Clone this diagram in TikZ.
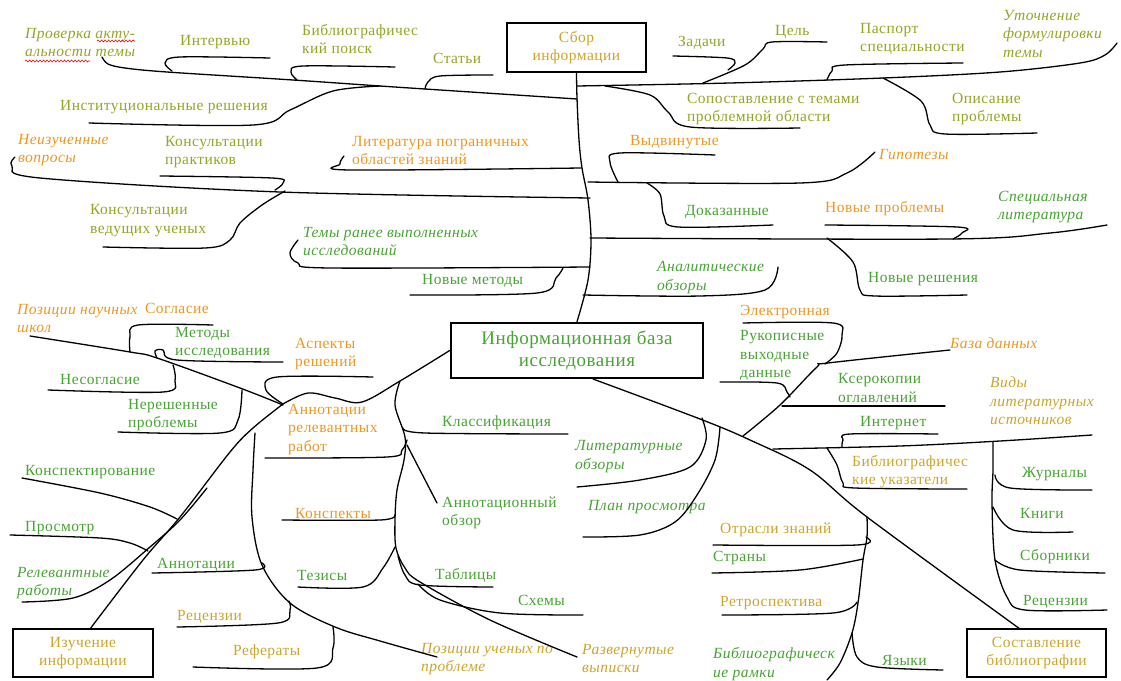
\documentclass[tikz,border=0pt]{standalone}
\usepackage{fontspec}
\setmainfont{Liberation Serif}[LetterSpace=3]
\usetikzlibrary{decorations.pathmorphing}
\definecolor{cOl}{RGB}{150,165,35}
\definecolor{cOr}{RGB}{240,150,30}
\definecolor{cGd}{RGB}{205,165,40}
\definecolor{cGr}{RGB}{70,165,50}
\newcommand{\fs}{\fontsize{15.5}{18.5}\selectfont}
\newcommand{\fb}{\fontsize{19}{22}\selectfont}
\begin{document}
\begin{tikzpicture}[x=1pt,y=-1pt,
  lbl/.style={anchor=west, inner sep=0pt, align=left, font=\fs},
  it/.style={lbl, font=\fs\itshape},
  boxn/.style={draw, line width=1.3pt, inner sep=0pt, align=center, font=\fs},
  br/.style={line width=1.3pt, line cap=round, line join=round},
  sm/.style={smooth, tension=0.55}]
\useasboundingbox (0,0) rectangle (1121,680);
\fill[white] (0,0) rectangle (1121,680);

% ---------- boxes ----------
\node[boxn, minimum width=139pt, minimum height=49pt, text=cGd] (sbor) at (576.5,47.5) {Сбор\\информации};
\node[boxn, line width=2.6pt, minimum width=252pt, minimum height=55pt, font=\fb, text=cGr] (info) at (577,350.5) {Информационная база\\исследования};
\node[boxn, minimum width=140pt, minimum height=48pt, text=cGd] (izu) at (83,653) {Изучение\\информации};
\node[boxn, minimum width=139pt, minimum height=48pt, text=cGd] (sost) at (1036.5,653) {Составление\\библиографии};

% ---------- labels ----------
\node[it, text=cOl] (n1) at (25,42.5) {Проверка акту-\\альности темы};
\node[lbl, text=cOl] (n2) at (180,42) {Интервью};
\node[lbl, text=cOl] (n3) at (302,39) {Библиографичес\\кий поиск};
\node[lbl, text=cOl] (n4) at (433,58) {Статьи};
\node[lbl, text=cOl] (n6) at (678,43) {Задачи};
\node[lbl, text=cOl] (n7) at (775,32) {Цель};
\node[lbl, text=cOl] (n8) at (860,39) {Паспорт\\специальности};
\node[it, text=cOl] (n9) at (1003,34) {Уточнение\\формулировки\\темы};
\node[lbl, text=cOl] (n10) at (60,107) {Институциональные решения};
\node[lbl, text=cOl] (n11) at (687,109) {Сопоставление с темами\\проблемной области};
\node[lbl, text=cOl] (n12) at (952,109) {Описание\\проблемы};
\node[it, text=cOr] (n13) at (18,150) {Неизученные\\вопросы};
\node[lbl, text=cOl] (n14) at (165,152) {Консультации\\практиков};
\node[lbl, text=cOr] (n15) at (352,150.5) {Литература пограничных\\областей знаний};
\node[lbl, text=cOr] (n16) at (630,142) {Выдвинутые};
\node[it, text=cOr] (n17) at (879,155) {Гипотезы};
\node[lbl, text=cOl] (n18) at (90,220.5) {Консультации\\ведущих ученых};
\node[lbl, text=cGr] (n19) at (685,212) {Доказанные};
\node[lbl, text=cOr] (n20) at (825,209) {Новые проблемы};
\node[it, text=cGr] (n21) at (998,207) {Специальная\\литература};
\node[it, text=cGr] (n22) at (303,241.5) {Темы ранее выполненных\\исследований};
\node[lbl, text=cGr] (n23) at (422,281) {Новые методы};
\node[it, text=cGr] (n24) at (657,277.5) {Аналитические\\обзоры};
\node[lbl, text=cGr] (n25) at (868,279) {Новые решения};
\node[it, text=cOr] (n26) at (17,318.5) {Позиции научных\\школ};
\node[lbl, text=cOr] (n27) at (145,308) {Согласие};
\node[lbl, text=cGr] (n28) at (175,343) {Методы\\исследования};
\node[lbl, text=cOr] (n29) at (295,354) {Аспекты\\решений};
\node[lbl, text=cGr] (n30) at (60,379) {Несогласие};
\node[lbl, text=cGr] (n31) at (128,415) {Нерешенные\\проблемы};
\node[lbl, text=cOr] (n32) at (288,429.5) {Аннотации\\релевантных\\работ};
\node[lbl, text=cGr] (n34) at (442,423) {Классификация};
\node[it, text=cGr] (n35) at (575,456.5) {Литературные\\обзоры};
\node[lbl, text=cGr] (n36) at (442,513) {Аннотационный\\обзор};
\node[it, text=cGr] (n37) at (588,507) {План просмотра};
\node[lbl, text=cGr] (n38) at (25,472) {Конспектирование};
\node[lbl, text=cGr] (n39) at (25,528) {Просмотр};
\node[it, text=cGr] (n40) at (17,583) {Релевантные\\работы};
\node[lbl, text=cGr] (n41) at (157,565) {Аннотации};
\node[lbl, text=cOr] (n42) at (295,513) {Конспекты};
\node[lbl, text=cGr] (n43) at (297,575) {Тезисы};
\node[lbl, text=cGd] (n44) at (177,617) {Рецензии};
\node[lbl, text=cGd] (n45) at (233,652) {Рефераты};
\node[lbl, text=cGr] (n47) at (435,575) {Таблицы};
\node[lbl, text=cGr] (n48) at (518,600) {Схемы};
\node[it, text=cGd] (n49) at (421,659) {Позиции ученых по\\проблеме};
\node[it, text=cGd] (n50) at (582,658.5) {Развернутые\\выписки};
\node[lbl, text=cOr] (n51) at (740,312) {Электронная};
\node[lbl, text=cGr] (n52) at (740,355.5) {Рукописные\\выходные\\данные};
\node[it, text=cOr] (n53) at (950,343) {База данных};
\node[lbl, text=cGr] (n54) at (838,388) {Ксерокопии\\оглавлений};
\node[lbl, text=cGr] (n55) at (860,423) {Интернет};
\node[it, text=cGd] (n56) at (990,401) {Виды\\литературных\\источников};
\node[lbl, text=cGd] (n57) at (852,471.5) {Библиографичес\\кие указатели};
\node[lbl, text=cGr] (n58) at (1022,474) {Журналы};
\node[lbl, text=cGr] (n59) at (1020,513) {Книги};
\node[lbl, text=cGr] (n60) at (1020,557) {Сборники};
\node[lbl, text=cGr] (n61) at (1023,602) {Рецензии};
\node[lbl, text=cGd] (n62) at (720,530) {Отрасли знаний};
\node[lbl, text=cGr] (n63) at (713,558) {Страны};
\node[lbl, text=cGd] (n64) at (720,603) {Ретроспектива};
\node[it, text=cGr] (n65) at (713,664) {Библиографическ\\ие рамки};
\node[lbl, text=cGr] (n66) at (882,660) {Языки};

% spell-check squiggles
\draw[red, line width=0.6pt, decorate, decoration={snake, amplitude=1pt, segment length=3.5pt}] (97,41) -- (135,41);
\draw[red, line width=0.6pt, decorate, decoration={snake, amplitude=1pt, segment length=3.5pt}] (25,61) -- (90,61);

% ---------- branches ----------
% trunk
\draw[br] plot[sm] coordinates {(sbor.south) (577,98) (579,140) (582,168) (588,200) (591,240) (588,280) (info.north)};
% top left
\draw[br] plot[sm] coordinates {(102,57) (108,64) (125,68) (167,72) (293,80) (380,86) (425,89) (577,99)};
\draw[br] plot[sm] coordinates {(270,58) (180,57) (165,63) (172,71)};
\draw[br] plot[sm] coordinates {(395,67) (303,66) (291,72) (297,80)};
\draw[br] plot[sm] coordinates {(493,75) (440,76) (428,82) (425,89)};
\draw[br] plot[sm] coordinates {(89,123) (253,125) (290,110) (333,91) (380,86)};
% top right
\draw[br] plot[sm] coordinates {(577,86) (730,83) (883,78) (1000,72) (1080,63) (1105,55) (1117,43)};
\draw[br] plot[sm] coordinates {(827,42) (772,42) (763,49) (745,65) (703,83)};
\draw[br] plot[sm] coordinates {(673,56) (727,58) (735,63) (728,70)};
\draw[br] plot[sm] coordinates {(963,63) (845,65) (832,71) (827,80)};
\draw[br] plot[sm] coordinates {(883,78) (921,101) (930,125) (945,134) (1037,133)};
\draw[br] plot[sm] coordinates {(605,86) (650,95) (668,112) (690,127) (800,128)};
% middle left
\draw[br] plot[sm] coordinates {(581,168) (350,170) (340,164) (344,156)};
\draw[br] plot[sm] coordinates {(15,157) (12,166) (40,178) (280,192) (590,198)};
\draw[br] plot[sm] coordinates {(160,176) (272,178) (283,183) (275,190)};
\draw[br] plot[sm] coordinates {(285,191) (262,205) (240,223) (230,240) (205,248) (103,247)};
\draw[br] plot[sm] coordinates {(590,267) (330,268) (298,263) (290,253) (298,240)};
\draw[br] plot[sm] coordinates {(410,295) (537,293) (556,278) (563,268)};
% middle right
\draw[br] plot[sm] coordinates {(588,182) (800,183) (847,173) (875,152)};
\draw[br] plot[sm] coordinates {(715,155) (620,153) (610,162) (618,182)};
\draw[br] plot[sm] coordinates {(647,183) (660,194) (664,216) (678,227) (773,225)};
\draw[br] plot[sm] coordinates {(590,238) (950,239) (1050,233) (1107,225)};
\draw[br] plot[sm] coordinates {(825,225) (957,227) (962,233) (953,239)};
\draw[br] plot[sm] coordinates {(827,238) (853,262) (860,290) (875,296) (967,295)};
\draw[br] plot[sm] coordinates {(583,295) (700,296) (765,290) (778,267)};
% center left
\draw[br] plot[sm] coordinates {(info.west) (400,381) (362,402) (335,398) (308,393) (283,404)};
\draw[br] plot[sm] coordinates {(373,377) (277,377) (266,390) (283,404)};
\draw[br] plot[sm] coordinates {(30,336) (130,352) (157,358) (240,388) (283,405)};
\draw[br] plot[sm] coordinates {(213,325) (138,325) (130,337) (130,352)};
\draw[br] plot[sm] coordinates {(283,362) (177,360) (163,350) (155,351) (157,358)};
\draw[br] plot[sm] coordinates {(48,390) (163,392) (175,380) (173,365)};
\draw[br] plot[sm] coordinates {(118,432) (220,433) (238,420) (242,390)};
\draw[br] plot[sm] coordinates {(283,404) (253,428) (230,452) (180,517) (143,560) (90,629)};
\draw[br] plot[sm] coordinates {(207,488) (180,520) (150,547) (110,580) (73,598) (22,602)};
\draw[br] plot[sm] coordinates {(22,478) (100,493) (150,507) (177,519)};
\draw[br] plot[sm] coordinates {(10,535) (100,538) (130,543) (148,551)};
\draw[br] plot[sm] coordinates {(255,433) (253,470) (252,517) (262,565) (290,603) (335,627) (380,641) (437,657)};
\draw[br] plot[sm] coordinates {(152,573) (255,570) (262,563)};
\draw[br] plot[sm] coordinates {(177,627) (278,623) (290,610) (289,601)};
\draw[br] plot[sm] coordinates {(193,667) (317,668) (333,648) (333,627)};
\draw[br] plot[sm] coordinates {(265,458) (387,457) (402,450) (407,440)};
\draw[br] plot[sm] coordinates {(400,381) (395,405) (405,437) (404,460) (397,490) (395,520) (396,548) (405,568) (420,582) (490,620) (577,657)};
\draw[br] plot[sm] coordinates {(403,428) (425,433) (568,434)};
\draw[br] (407,445) -- (437,503);
\draw[br] plot[sm] coordinates {(282,520) (380,520) (395,515)};
\draw[br] plot[sm] coordinates {(298,587) (363,587) (383,568) (395,547)};
\draw[br] plot[sm] coordinates {(398,556) (405,575) (420,585) (493,587)};
\draw[br] plot[sm] coordinates {(418,584) (440,600) (500,613) (583,615)};
% center right
\draw[br] plot[sm] coordinates {(593,379) (700,419) (750,440) (810,470) (867,517) (1020,629)};
\draw[br] plot[sm] coordinates {(702,418) (706,440) (690,467) (640,480) (577,487)};
\draw[br] plot[sm] coordinates {(720,427) (715,460) (697,495) (675,522) (640,535) (583,537)};
\draw[br] plot[sm] coordinates {(743,436) (780,405) (817,367) (828,363) (950,350)};
\draw[br] plot[sm] coordinates {(743,323) (833,323) (842,335) (837,353) (825,364)};
\draw[br] plot[sm] coordinates {(720,382) (777,383) (787,392) (790,397)};
\draw[br] (782,406) -- (945,406);
\draw[br] plot[sm] coordinates {(773,449) (900,446) (1000,441) (1092,435)};
\draw[br] plot[sm] coordinates {(938,434) (850,434) (843,440) (842,447)};
\draw[br] plot[sm] coordinates {(993,442) (993,470) (992,503) (995,560) (1007,597) (1025,610) (1107,610)};
\draw[br] plot[sm] coordinates {(995,475) (1010,488) (1092,490)};
\draw[br] plot[sm] coordinates {(993,507) (1013,530) (1073,532)};
\draw[br] plot[sm] coordinates {(995,560) (1020,570) (1105,573)};
\draw[br] plot[sm] coordinates {(827,448) (837,465) (843,483) (855,488) (967,489)};
\draw[br] plot[sm] coordinates {(867,517) (867,537) (863,560) (858,603) (852,633) (840,663) (827,680)};
\draw[br] plot[sm] coordinates {(713,545) (857,545) (866,537)};
\draw[br] plot[sm] coordinates {(712,573) (800,570) (863,559)};
\draw[br] plot[sm] coordinates {(722,615) (833,613) (857,602)};
\draw[br] plot[sm] coordinates {(852,633) (857,657) (877,667) (943,670)};
\end{tikzpicture}
\end{document}
